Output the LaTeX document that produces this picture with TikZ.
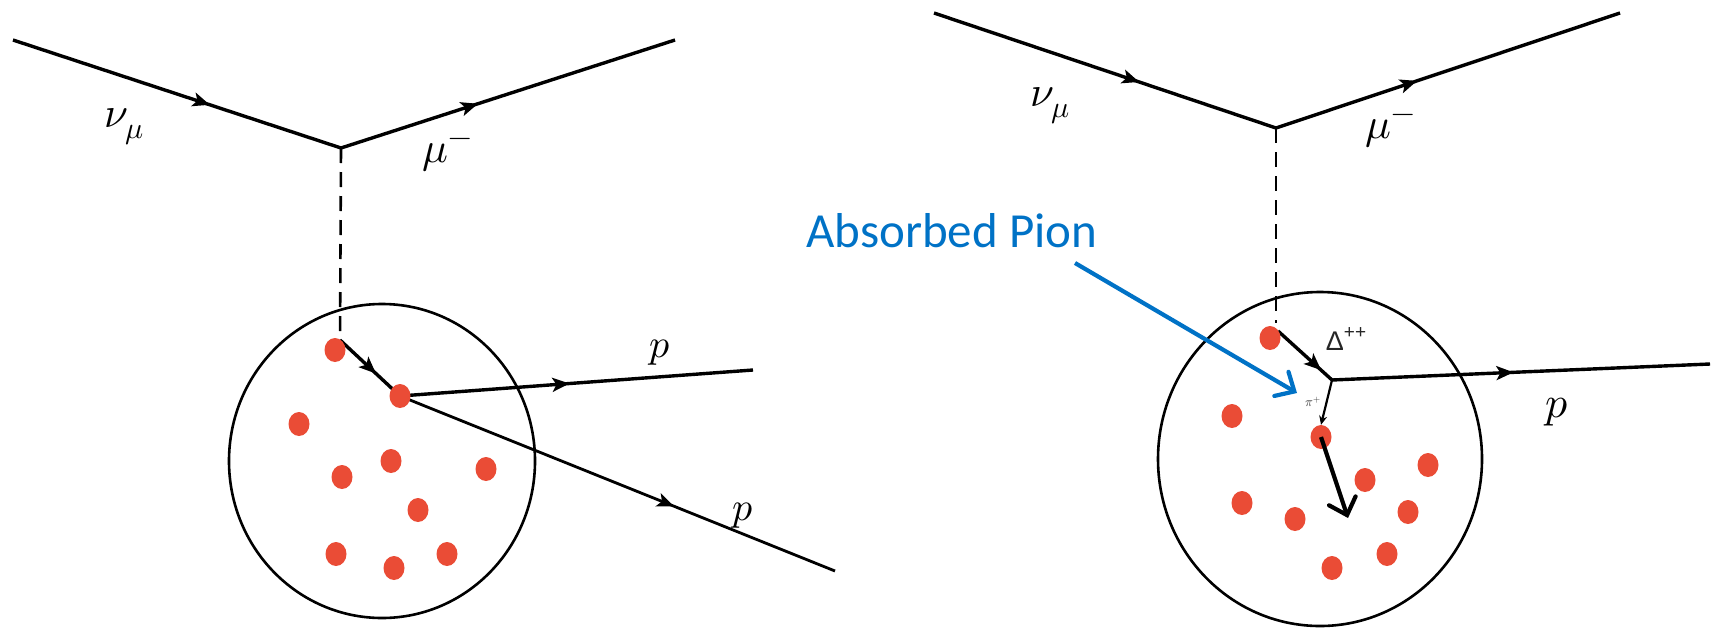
\documentclass[tikz,border=0pt]{standalone}
\usepackage{fontspec}
\usepackage{unicode-math}
\setmathfont{Latin Modern Math}
\newfontfamily\calfont{Carlito}
\newfontfamily\arialfont{Liberation Sans}
\usetikzlibrary{arrows.meta,decorations.markings,shapes.geometric}
\definecolor{nucred}{RGB}{234,76,54}
\definecolor{pionblue}{RGB}{0,114,198}
\pgfdeclarelayer{bg}
\pgfsetlayers{bg,main}
\begin{document}
\begin{tikzpicture}[x=1pt,y=-1pt,
  fline/.style={line width=3.4pt, black},
  thinfline/.style={line width=2.8pt, black},
  dashline/.style={line width=2.6pt, dash pattern=on 15pt off 9pt},
  nuc/.style={ellipse, fill=nucred, minimum width=21pt, minimum height=24pt, inner sep=0pt},
  nucleus/.style={draw, line width=2.6pt, ellipse, inner sep=0pt},
  arrowat/.style={postaction={decorate}, decoration={markings, mark=at position #1 with {\arrow{Stealth[length=17pt,width=14pt,inset=4pt]}}}},
  lbl/.style={inner sep=0pt, font=\fontsize{43}{46}\selectfont},
  plbl/.style={inner sep=0pt, font=\fontsize{40}{44}\selectfont},
  barb/.style={-{Straight Barb[length=15pt,width=28pt,line cap=round]}, line width=4.2pt}
]
\useasboundingbox (0,0) rectangle (1712,627);

% ---------------- left diagram ----------------
\coordinate (Lnu) at (13,40);
\coordinate (Lv) at (341,148);
\coordinate (Lmu) at (675,40);
\coordinate (Ld) at (340,340);
\coordinate (Lp1) at (753,370);
\coordinate (Lp2) at (835,571);

\node[nucleus, minimum width=306pt, minimum height=314pt] (nucL) at (382,461) {};

\node[nuc] (l1) at (335,350) {};
\node[nuc] (l2) at (400,396) {};
\node[nuc] (l3) at (299,424) {};
\node[nuc] (l4) at (342,477) {};
\node[nuc] (l5) at (391,461) {};
\node[nuc] (l6) at (486,469) {};
\node[nuc] (l7) at (418,510) {};
\node[nuc] (l8) at (336,554) {};
\node[nuc] (l9) at (394,568) {};
\node[nuc] (l10) at (447,554) {};

\begin{pgfonlayer}{bg}
\draw[fline, arrowat=0.6] (Lnu) -- (Lv);
\draw[fline, arrowat=0.41] (Lv) -- (Lmu);
\draw[dashline] (Lv) -- (Ld);
\draw[fline, arrowat=0.6] (Ld) -- (l2.center);
\draw[fline, arrowat=0.48] (l2.center) -- (Lp1);
\draw[thinfline, arrowat=0.63] (l2.center) -- (Lp2);
\end{pgfonlayer}

\node[lbl] (Lnul) at (124,127) {$\nu_\mu$};
\node[lbl] (Lmul) at (447,155) {$\mu^-$};
\node[plbl] (Lpl1) at (660,353) {$p$};
\node[plbl] (Lpl2) at (743,516) {$p$};

% ---------------- right diagram ----------------
\coordinate (Rnu) at (934,13);
\coordinate (Rv) at (1276,128);
\coordinate (Rmu) at (1620,13);
\coordinate (Rd) at (1276,323);
\coordinate (Rx) at (1332,380);
\coordinate (Rp) at (1710,364);
\coordinate (Rk) at (1348,518);

\node[nucleus, minimum width=324pt, minimum height=334pt] (nucR) at (1320,459) {};

\node[nuc] (r1) at (1270,338) {};
\node[nuc] (r2) at (1232,416) {};
\node[nuc] (r3) at (1321,437) {};
\node[nuc] (r4) at (1365,480) {};
\node[nuc] (r5) at (1428,465) {};
\node[nuc] (r6) at (1242,503) {};
\node[nuc] (r7) at (1295,519) {};
\node[nuc] (r8) at (1408,512) {};
\node[nuc] (r9) at (1387,554) {};
\node[nuc] (r10) at (1332,568) {};

\begin{pgfonlayer}{bg}
\draw[fline, arrowat=0.6] (Rnu) -- (Rv);
\draw[fline, arrowat=0.41] (Rv) -- (Rmu);
\draw[dashline] (Rv) -- (Rd);
\draw[fline, arrowat=0.8] (1278,331) -- (Rx);
\draw[fline, arrowat=0.48] (Rx) -- (Rp);
\draw[line width=2.2pt, -{Stealth[length=9pt,width=8pt]}] (Rx) -- (r3.north);
\end{pgfonlayer}
\draw[barb, black] (r3.center) -- (Rk);

\node[inner sep=0pt, font=\arialfont\fontsize{27}{30}\selectfont, text=black!85] (dlt) at (1346,339) {Δ\raisebox{0.45em}{\fontsize{19}{21}\selectfont ++}};
\node[inner sep=0pt, font=\fontsize{13}{15}\selectfont, text=black!80] (pil) at (1313,402) {$\pi^+$};
\node[lbl] (Rnul) at (1050,106) {$\nu_\mu$};
\node[lbl] (Rmul) at (1390,131) {$\mu^-$};
\node[plbl, font=\fontsize{44}{48}\selectfont] (Rpl) at (1557,412) {$p$};

% ---------------- annotation ----------------
\node[anchor=base west, inner sep=0pt, text=pionblue, font=\calfont\fontsize{49}{54}\selectfont] (abs) at (806,247) {Absorbed Pion};
\coordinate (absS) at (1075,263);
\coordinate (absT) at (1297,393);
\draw[barb, pionblue] (absS) -- (absT);
\end{tikzpicture}
\end{document}
